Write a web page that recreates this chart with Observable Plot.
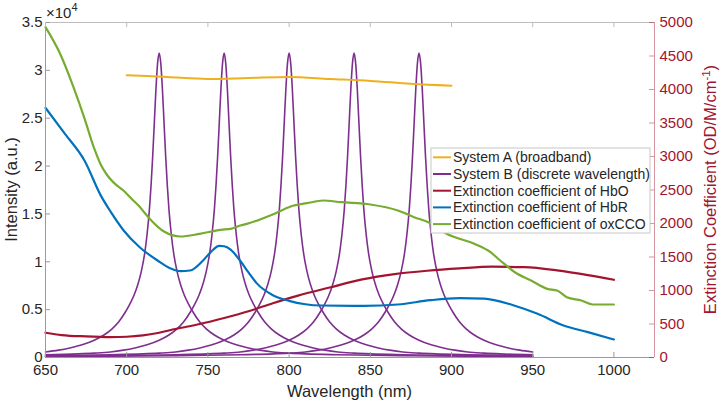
<!DOCTYPE html>
<html><head><meta charset="utf-8">
<script src="https://cdn.jsdelivr.net/npm/d3@7"></script>
<script src="https://cdn.jsdelivr.net/npm/@observablehq/plot@0.6"></script>
<style>
body{margin:0;background:#fff}
#chart{width:722px;height:403px}
svg{overflow:visible}
</style>
</head><body><div id="chart"></div>
<script>
// ---------- data ----------
const xTicks = [650, 700, 750, 800, 850, 900, 950, 1000];
const leftTicks = [0, 0.5, 1, 1.5, 2, 2.5, 3, 3.5];
const rightTicks = [0, 500, 1000, 1500, 2000, 2500, 3000, 3500, 4000, 4500, 5000];

// System A (broadband), intensity in units of 10^4
const sysAWavelength = [700, 725, 750, 775, 800, 825, 850, 875, 900];
const sysAIntensity  = [2.95, 2.93, 2.91, 2.92, 2.93, 2.91, 2.89, 2.86, 2.84];

// System B (discrete wavelength): five identical peaks, spectra recorded 650–950 nm
const sysBCenters = [720, 760, 800, 840, 880];
const sysBRange = [650, 950];
const sysBProfileOffset = [0, 1, 2, 3, 4, 5, 6, 7.5, 9, 11, 13, 15.5, 18, 21, 25, 29, 34, 40, 47, 55, 62, 70, 80, 90, 110, 150, 190, 230];
const sysBProfileValue  = [3.18, 3.07, 2.8, 2.45, 2.1, 1.8, 1.55, 1.28, 1.08, 0.9, 0.77, 0.65, 0.56, 0.47, 0.37, 0.3, 0.235, 0.18, 0.135, 0.1, 0.077, 0.058, 0.046, 0.038, 0.029, 0.019, 0.013, 0.01];

// Extinction coefficients (OD/M/cm)
const hboWavelength = [650, 660, 675, 690, 700, 710, 720, 730, 745, 760, 775, 790, 805, 825, 845, 865, 885, 905, 925, 945, 965, 985, 1000];
const hboValue      = [370, 335, 315, 305, 310, 330, 370, 425, 500, 590, 690, 810, 920, 1045, 1165, 1245, 1295, 1330, 1355, 1348, 1300, 1225, 1160];

const hbrWavelength = [650, 662, 674, 684, 690, 698, 708, 719, 727, 733, 739, 747, 752, 757, 760, 764, 770, 775, 780, 790, 800, 810, 820, 846, 867, 887, 905, 920, 938, 953, 969, 984, 1000];
const hbrValue      = [3726, 3338, 2940, 2420, 2180, 1900, 1646, 1448, 1330, 1288, 1298, 1448, 1580, 1665, 1660, 1610, 1440, 1270, 1110, 930, 845, 795, 776, 771, 791, 855, 885, 880, 780, 652, 478, 378, 269];

const oxWavelength = [650, 659, 667, 674, 680, 684, 688, 692, 698, 703, 708, 711, 715, 723, 733, 745, 758, 764, 770, 774, 791, 801, 811, 821, 832, 850, 867, 877, 887, 897, 914, 924, 930, 939, 949, 959, 965, 971, 980, 987, 1000];
const oxValue      = [4930, 4533, 4050, 3570, 3120, 2880, 2720, 2610, 2492, 2370, 2250, 2160, 2050, 1880, 1806, 1846, 1906, 1920, 1970, 1995, 2145, 2254, 2303, 2343, 2318, 2284, 2194, 2094, 2005, 1846, 1697, 1572, 1448, 1273, 1149, 1025, 1000, 900, 851, 791, 791];

const legendLabels = ["System A (broadband)", "System B (discrete wavelength)", "Extinction coefficient of HbO", "Extinction coefficient of HbR", "Extinction coefficient of oxCCO"];
const colors = ["#EDB120", "#7E2F8E", "#A2142F", "#0072BD", "#77AC30"];

// ---------- build tables ----------
const k = 3.5 / 5000; // right axis -> left axis units
const sysA = sysAWavelength.map((w, i) => ({w, v: sysAIntensity[i]}));
const offs = [...sysBProfileOffset.slice(1).map(o => -o).reverse(), ...sysBProfileOffset];
const vals = [...sysBProfileValue.slice(1).reverse(), ...sysBProfileValue];
const sysB = sysBCenters.flatMap((c, p) =>
  offs.map((o, i) => ({peak: p, w: c + o, v: vals[i]})).filter(d => d.w >= sysBRange[0] && d.w <= sysBRange[1]));
const hbo = hboWavelength.map((w, i) => ({w, v: hboValue[i] * k}));
const hbr = hbrWavelength.map((w, i) => ({w, v: hbrValue[i] * k}));
const ox = oxWavelength.map((w, i) => ({w, v: oxValue[i] * k}));

// ---------- layout ----------
const W = 722, H = 403, mL = 45, mR = 68, mT = 22, mB = 46;
const pw = W - mL - mR, ph = H - mT - mB;
const axisGray = "#9a9a9a", txt = "#262626", red = "#A2142F";
const font = "'Liberation Sans', Arial, Helvetica, sans-serif";

const chart = Plot.plot({
  width: W, height: H,
  marginLeft: mL, marginRight: mR, marginTop: mT, marginBottom: mB,
  x: {domain: [650, 1025], axis: null},
  y: {domain: [0, 3.5], axis: null},
  style: {fontFamily: font, background: "#fff"},
  marks: [
    Plot.line(sysB, {x: "w", y: "v", z: "peak", stroke: colors[1], strokeWidth: 1.6, curve: "monotone-x"}),
    Plot.line(sysA, {x: "w", y: "v", stroke: colors[0], strokeWidth: 2, curve: "monotone-x"}),
    Plot.line(hbo, {x: "w", y: "v", stroke: colors[2], strokeWidth: 2.2, curve: "monotone-x"}),
    Plot.line(hbr, {x: "w", y: "v", stroke: colors[3], strokeWidth: 2.2, curve: "monotone-x"}),
    Plot.line(ox, {x: "w", y: "v", stroke: colors[4], strokeWidth: 2.2, curve: "monotone-x"}),
    // box
    Plot.ruleX([650], {stroke: axisGray}),
    Plot.ruleY([0], {stroke: axisGray}),
    Plot.ruleY([3.5], {stroke: "#bdbdbd"}),
    Plot.ruleX([1025], {stroke: red, strokeOpacity: 0.45}),
    // inward ticks
    Plot.tickY(leftTicks, {y: d => d, insetRight: pw - 5, stroke: axisGray}),
    Plot.tickY(rightTicks, {y: d => d * k, insetLeft: pw - 5, stroke: red, strokeOpacity: 0.45}),
    Plot.tickX(xTicks, {x: d => d, insetTop: ph - 5, stroke: axisGray}),
    Plot.tickX(xTicks, {x: d => d, insetBottom: ph - 5, stroke: "#bdbdbd"}),
    // tick labels
    Plot.text(leftTicks, {y: d => d, frameAnchor: "left", dx: -3, textAnchor: "end", text: d => String(d), fontSize: 15, fill: txt}),
    Plot.text(rightTicks, {y: d => d * k, frameAnchor: "right", dx: 5, textAnchor: "start", text: d => String(d), fontSize: 15, fill: red}),
    Plot.text(xTicks, {x: d => d, frameAnchor: "bottom", dy: 17, text: d => String(d), fontSize: 15, fill: txt})
  ]
});
document.getElementById("chart").appendChild(chart);

// ---------- titles, exponent, legend ----------
const svg = d3.select(chart);
const cy = mT + ph / 2;
svg.append("text").attr("x", mL + pw / 2).attr("y", 397).attr("text-anchor", "middle")
  .attr("font-family", font).attr("font-size", 16.5).attr("fill", txt).text("Wavelength (nm)");
svg.append("text").attr("transform", `translate(17,${cy}) rotate(-90)`).attr("text-anchor", "middle")
  .attr("font-family", font).attr("font-size", 16.5).attr("fill", txt).text("Intensity (a.u.)");
const rt = svg.append("text").attr("transform", `translate(716,${cy}) rotate(-90)`).attr("text-anchor", "middle")
  .attr("font-family", font).attr("font-size", 16.5).attr("fill", red);
rt.append("tspan").text("Extinction Coefficient (OD/M/cm");
rt.append("tspan").attr("dy", -6).attr("font-size", 11.5).text("-1");
rt.append("tspan").attr("dy", 6).text(")");
const ex = svg.append("text").attr("x", 46).attr("y", 18).attr("text-anchor", "start")
  .attr("font-family", font).attr("font-size", 15).attr("fill", txt);
ex.append("tspan").text("×10");
ex.append("tspan").attr("dy", -7).attr("font-size", 11).text("4");

const lg = svg.append("g");
lg.append("rect").attr("x", 431).attr("y", 148).attr("width", 219).attr("height", 85)
  .attr("fill", "#fff").attr("stroke", "#c8c8c8");
legendLabels.forEach((lab, i) => {
  const y = 157.3 + i * 16.7;
  lg.append("line").attr("x1", 433).attr("x2", 451).attr("y1", y).attr("y2", y)
    .attr("stroke", colors[i]).attr("stroke-width", 2);
  lg.append("text").attr("x", 453).attr("y", y).attr("dy", "0.35em").attr("text-anchor", "start")
    .attr("font-family", font).attr("font-size", 14).attr("fill", txt).text(lab);
});
</script>
</body></html>
